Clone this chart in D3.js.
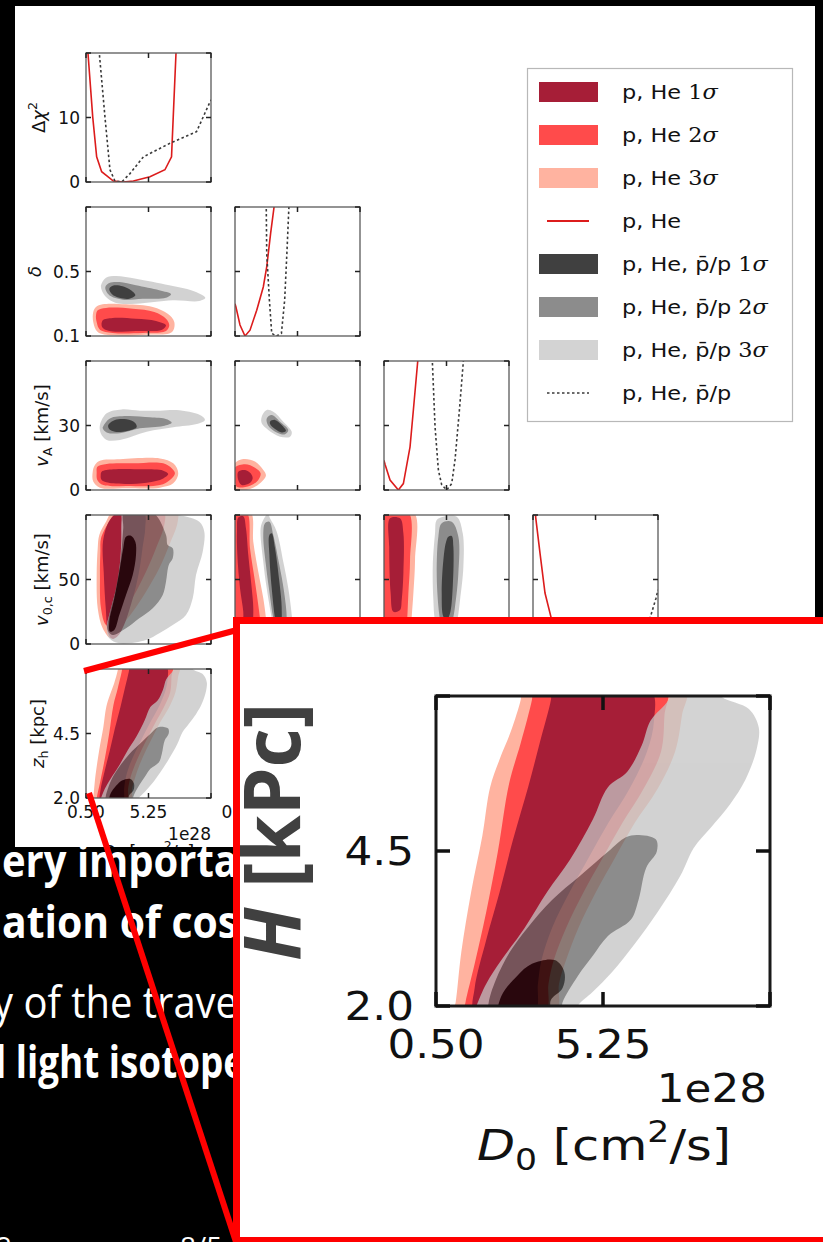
<!DOCTYPE html>
<html><head><meta charset="utf-8">
<script src="https://cdn.jsdelivr.net/npm/d3@7/dist/d3.min.js"></script>
<style>html,body{margin:0;padding:0;background:#000}svg{display:block}</style>
</head><body>
<svg id="c" width="823" height="1242"></svg>
<script>
// ---------- parameter axes ----------
const paramDomains = [[0.5, 10], [0.1, 0.9], [0, 60], [0, 100], [2, 7]];
const paramTicks   = [[0.5, 5.25, 10], [0.1, 0.5, 0.9], [0, 30, 60], [0, 50, 100], [2, 4.5, 7]];
const paramTickLabels = [["0.50", "5.25", ""], ["0.1", "0.5", ""], ["0", "30", ""], ["0", "50", ""], ["2.0", "4.5", ""]];
const chiDomain = [0, 20];
const chiTicks = [0, 10, 20];
const chiTickLabels = ["0", "10", ""];

// ---------- profile likelihoods [param, Δχ²] ----------
const chiD0_pHe      = [[0.6,22],[0.65,20],[1.01,10.1],[1.31,3.9],[1.69,1.6],[2.58,0.15],[3.34,0],[4.1,0.15],[5.36,0.8],[6.5,1.9],[7.0,3.9],[7.13,10.1],[7.34,20],[7.38,22]];
const chiD0_pHePbar  = [[1.45,22],[1.51,20],[1.94,10.1],[2.32,1.9],[2.7,0.15],[3.21,0],[3.84,1.3],[4.86,3.9],[6.88,6.0],[8.9,7.8],[9.41,10.1],[9.92,12.4],[10.05,12.8]];
const chiDelta_pHe     = [[0.1,5.0],[0.106,4.5],[0.132,1.7],[0.164,0.0],[0.196,0.9],[0.239,4.0],[0.281,7.6],[0.303,10.7],[0.328,15.9],[0.35,20],[0.355,22]];
const chiDelta_pHePbar = [[0.298,22],[0.30,20],[0.303,12.8],[0.32,5.6],[0.335,0.4],[0.366,0.0],[0.397,0.4],[0.418,5.6],[0.432,12.8],[0.445,20],[0.448,22]];
const chiVA_pHe      = [[0,4.6],[0.48,4.0],[2.9,1.55],[6.9,0.0],[9.3,1.0],[12.5,6.7],[14.1,12.4],[16.2,20],[16.5,22]];
const chiVA_pHePbar  = [[22.9,22],[23.2,20],[24.5,9.8],[26.1,3.1],[27.7,0.8],[30.1,0],[32.5,1.0],[34.1,4.7],[36.2,12.4],[38.1,20],[38.4,22]];
const chiV0c_pHe     = [[1.8,22],[2.1,19.7],[5.6,14.1],[9.6,7.9],[15,3.7],[25,1.5],[40,0.5],[60,0.0],[80,0.2],[100,0.6]];
const chiV0c_pHePbar = [[60,2.5],[75,0.3],[85,0.5],[93.6,4.0],[98.4,7.1],[100,8.4]];

// ---------- 2D confidence regions [x param, y param] ----------
// delta vs D0
const deltaD0_r3 = [[1.26,0.280],[1.77,0.297],[3.54,0.297],[5.57,0.280],[6.71,0.238],[7.21,0.187],[7.04,0.125],[5.06,0.108],[2.53,0.104],[1.39,0.125],[1.05,0.187],[1.05,0.249]];
const deltaD0_r2 = [[1.39,0.259],[2.02,0.274],[4.05,0.269],[5.69,0.249],[6.58,0.207],[6.83,0.166],[6.58,0.131],[4.81,0.119],[2.53,0.119],[1.56,0.139],[1.31,0.187],[1.26,0.228]];
const deltaD0_r1 = [[1.77,0.197],[2.53,0.212],[4.30,0.207],[5.82,0.193],[6.58,0.166],[6.28,0.139],[4.30,0.131],[2.27,0.131],[1.72,0.156]];
const deltaD0_g3 = [[1.64,0.414],[2.02,0.462],[2.78,0.472],[4.30,0.455],[6.83,0.414],[8.86,0.373],[9.57,0.337],[9.11,0.317],[7.09,0.321],[4.30,0.300],[2.78,0.305],[2.02,0.342],[1.72,0.379]];
const deltaD0_g2 = [[1.97,0.404],[2.27,0.429],[3.03,0.435],[4.30,0.414],[6.07,0.383],[6.96,0.359],[6.58,0.337],[4.81,0.331],[3.29,0.325],[2.40,0.346],[2.07,0.373]];
const deltaD0_g1 = [[2.27,0.393],[2.65,0.414],[3.29,0.408],[3.92,0.383],[4.25,0.352],[3.79,0.331],[3.03,0.337],[2.48,0.359]];
// vA vs D0
const vAD0_r3 = [[1.18,11.6],[1.56,13.6],[3.08,14.3],[6.12,14.7],[7.13,12.4],[7.51,7.8],[7.13,3.1],[6.12,1.1],[3.59,0.8],[1.56,1.1],[1.05,3.9],[1.01,8.5]];
const vAD0_r2 = [[1.36,10.8],[2.07,12.1],[4.10,12.4],[6.37,12.4],[7.01,10.1],[7.26,7.8],[6.88,4.7],[6.12,2.3],[3.59,1.9],[1.82,2.3],[1.36,4.7],[1.31,8.1]];
const vAD0_r1 = [[1.69,8.5],[2.58,9.6],[4.86,9.6],[6.37,9.0],[6.75,7.4],[6.37,5.4],[5.11,3.4],[2.58,3.1],[1.69,4.7],[1.62,7.0]];
const vAD0_g3 = [[1.56,30.2],[2.07,35.7],[3.21,37.5],[4.60,36.9],[6.12,36.9],[7.39,37.2],[9.16,34.9],[9.54,32.6],[8.91,30.7],[7.13,29.2],[5.11,27.1],[3.08,23.3],[2.07,23.3],[1.62,26.4]];
const vAD0_g2 = [[1.82,29.8],[2.32,33.3],[3.59,34.4],[5.36,33.8],[6.63,32.9],[7.01,31.3],[6.37,29.8],[4.60,28.7],[3.08,26.4],[2.07,26.8],[1.77,28.7]];
const vAD0_g1 = [[2.19,30.2],[2.70,32.6],[3.59,32.9],[4.22,31.3],[4.35,29.2],[3.71,27.6],[2.70,27.1],[2.27,28.2]];
// vA vs delta
const vAdelta_r3 = [[0.095,12.0],[0.153,14.4],[0.228,13.2],[0.281,9.3],[0.298,6.7],[0.26,3.1],[0.196,0.5],[0.095,0.0]];
const vAdelta_r2 = [[0.098,10.3],[0.164,12.0],[0.228,10.4],[0.264,7.8],[0.249,4.7],[0.196,2.0],[0.111,1.5],[0.098,5.0]];
const vAdelta_r1 = [[0.121,8.5],[0.164,9.3],[0.2,7.8],[0.213,5.4],[0.192,3.1],[0.143,2.3],[0.121,4.7]];
const vAdelta_g3 = [[0.271,34.1],[0.303,37.2],[0.345,36.4],[0.409,31.8],[0.463,27.1],[0.452,24.8],[0.388,24.8],[0.313,27.9],[0.271,31.0]];
const vAdelta_g2 = [[0.303,33.3],[0.335,34.9],[0.388,31.8],[0.441,27.9],[0.420,25.9],[0.367,26.8],[0.313,29.9]];
const vAdelta_g1 = [[0.324,31.8],[0.356,32.6],[0.399,30.2],[0.426,27.4],[0.399,26.8],[0.356,28.4],[0.328,30.2]];
// v0c vs D0
const v0cD0_r3 = [[1.51,84.5],[2.02,94.8],[2.6,103],[7.4,103],[7.47,94.8],[6.83,76.7],[6.07,58.7],[5.06,40.6],[4.05,25.0],[3.03,12.2],[2.40,4.4],[1.77,12.2],[1.39,27.7],[1.31,53.5],[1.39,74.2]];
const v0cD0_r2 = [[1.64,81.9],[2.27,94.8],[2.9,102],[6.4,102],[6.45,92.2],[5.82,74.2],[5.06,56.0],[4.30,40.6],[3.41,25.0],[2.65,12.2],[2.02,14.7],[1.64,27.7],[1.56,53.5],[1.59,71.6]];
const v0cD0_r1 = [[1.8,80],[2.3,96],[3.0,102],[4.9,102],[5.0,90],[4.8,75],[4.6,60],[4.3,45],[3.9,30],[3.4,15],[2.9,6],[2.5,4],[2.2,8],[2.0,28],[1.85,55]];
const v0cD0_g3 = [[3.29,103],[5.57,103],[7.59,100],[9.11,94.8],[9.49,87.1],[9.37,71.6],[8.86,53.5],[8.61,35.4],[8.10,22.5],[7.09,14.7],[6.07,8.3],[5.06,3.1],[3.03,0.5],[2.27,4.4],[2.07,12.2],[2.40,27.7],[2.91,48.3],[3.16,74.2],[3.2,96]];
const v0cD0_g2 = [[3.4,102],[5.57,102],[6.58,84.5],[6.71,76.7],[7.09,74.2],[7.09,66.4],[6.79,61.2],[6.58,48.3],[6.33,38.0],[5.57,27.7],[4.55,19.9],[3.54,12.2],[2.53,7.0],[2.15,10.9],[2.27,22.5],[2.78,43.2],[3.16,69.0],[3.33,89.7]];
const v0cD0_g1 = [[3.54,83.2],[3.92,84.0],[4.25,79.3],[4.30,69.0],[4.05,53.5],[3.54,38.0],[3.03,22.5],[2.65,10.9],[2.32,9.6],[2.27,17.3],[2.65,35.4],[3.03,56.0],[3.33,74.2]];
// v0c vs delta
const v0cdelta_r3 = [[0.095,102],[0.20,102],[0.217,79.3],[0.249,56],[0.281,35.4],[0.298,19.9],[0.305,5],[0.29,-2],[0.095,-2]];
const v0cdelta_r2 = [[0.097,102],[0.175,102],[0.196,74.2],[0.228,48.3],[0.26,19.9],[0.27,5],[0.25,-2],[0.097,-2]];
const v0cdelta_r1 = [[0.121,98],[0.153,99],[0.170,89.7],[0.185,69.0],[0.207,43.2],[0.217,27.7],[0.21,15],[0.18,8],[0.155,15],[0.153,25.0],[0.132,43.2],[0.115,69],[0.113,88]];
const v0cdelta_g3 = [[0.281,96.1],[0.31,101],[0.324,97.4],[0.367,87.1],[0.409,63.8],[0.441,43.2],[0.463,22.5],[0.47,8],[0.43,2],[0.36,5],[0.335,19.9],[0.303,43.2],[0.281,63.8],[0.264,89.7]];
const v0cdelta_g2 = [[0.292,93.6],[0.320,94.8],[0.345,84.5],[0.384,61.2],[0.414,40.6],[0.431,19.9],[0.42,8],[0.37,8],[0.345,19.9],[0.320,40.6],[0.298,61.2],[0.281,84.5]];
const v0cdelta_g1 = [[0.320,84.5],[0.335,85.8],[0.356,74.2],[0.384,48.3],[0.399,27.7],[0.39,14],[0.365,14],[0.356,19.9],[0.335,43.2],[0.320,69]];
// v0c vs vA
const v0cvA_r3 = [[0.3,102],[14.3,102],[14.9,65.1],[14.1,39.3],[13.3,21.2],[12.5,5],[10,-2],[0.3,-2]];
const v0cvA_r2 = [[1.2,102],[11.7,102],[12.5,65.1],[11.7,39.3],[11.2,21.2],[10.5,5],[8,-2],[1.2,-2]];
const v0cvA_r1 = [[2.9,97.4],[7.7,97.4],[9.3,85.8],[9.3,54.8],[8.5,34.1],[7.7,26.4],[4.5,25.0],[3.2,39.3],[2.5,75.4]];
const v0cvA_g3 = [[25.3,96.1],[28.5,98.7],[34.9,98.7],[37.8,85.8],[38.1,59.9],[36.5,34.1],[35.2,18.6],[33,5],[28,3],[24.5,18.6],[23.7,34.1],[23.4,59.9],[24.5,85.8]];
const v0cvA_g2 = [[27.7,93.6],[32.5,94.8],[35.7,83.2],[35.7,54.8],[34.1,29.0],[33.0,18.6],[31,8],[28,9],[26.9,18.6],[26.1,29.0],[25.3,54.8],[26.1,83.2]];
const v0cvA_g1 = [[30.9,83.2],[32.5,83.7],[33.3,75.4],[33.0,44.4],[31.7,23.8],[30.1,18.6],[28.5,21.2],[27.7,39.3],[28.5,65.1],[29.8,79.3]];
// zh vs D0
const zhD0_r3 = [[1.0,1.9],[1.06,2.06],[1.22,2.87],[1.50,3.84],[1.82,4.75],[2.04,5.53],[2.31,5.98],[2.63,6.43],[2.91,6.94],[2.95,7.1],[7.6,7.1],[7.5,6.7],[7.3,6.1],[6.8,5.5],[6.15,4.95],[5.6,4.4],[5.05,3.84],[4.55,3.26],[4.2,2.74],[4.0,2.36],[3.9,1.9]];
const zhD0_r2 = [[1.3,1.9],[1.34,2.06],[1.60,2.68],[1.93,3.52],[2.26,4.49],[2.58,5.59],[2.91,6.24],[3.23,6.94],[3.27,7.1],[7.05,7.1],[7.0,6.7],[6.9,6.1],[6.4,5.5],[5.8,4.95],[5.25,4.4],[4.7,3.84],[4.2,3.26],[3.85,2.74],[3.7,2.36],[3.6,1.9]];
const zhD0_r1 = [[1.6,1.9],[1.60,2.29],[1.93,3.07],[2.31,3.84],[2.69,4.68],[3.12,5.53],[3.45,6.24],[3.77,6.94],[3.8,7.1],[6.6,7.1],[6.7,6.6],[6.5,6.1],[6.0,5.5],[5.4,4.95],[4.85,4.4],[4.3,3.84],[3.8,3.26],[3.5,2.74],[3.4,2.36],[3.3,1.9]];
const zhD0_g3 = [[7.4,7.1],[7.0,6.85],[6.6,6.6],[6.35,6.2],[5.94,5.78],[5.39,5.53],[4.96,5.01],[4.31,4.36],[3.66,3.84],[3.02,3.26],[2.36,2.74],[1.93,2.36],[1.65,2.0],[1.6,1.9],[4.5,1.9],[4.53,2.0],[4.96,2.23],[5.51,2.55],[6.15,3.0],[6.81,3.52],[7.45,4.10],[7.83,4.55],[8.32,4.88],[8.87,5.26],[9.30,5.65],[9.62,6.14],[9.68,6.49],[9.40,6.79],[8.64,6.98],[8.5,7.1]];
const zhD0_g2 = [[6.21,4.76],[6.75,4.69],[6.78,4.49],[6.48,4.23],[6.26,3.71],[6.04,3.39],[5.39,3.13],[4.96,2.81],[4.53,2.48],[4.10,2.06],[4.05,1.9],[2.0,1.9],[2.0,2.06],[2.2,2.42],[2.6,2.87],[3.1,3.26],[3.8,3.71],[4.6,4.10],[5.4,4.49],[5.9,4.72]];
const zhD0_g1 = [[3.23,2.68],[3.88,2.74],[4.15,2.55],[4.10,2.29],[3.77,2.10],[3.7,1.9],[2.3,1.9],[2.36,2.16],[2.80,2.48]];

// ---------- legend ----------
const legendLabels = [["p, He ", "1"], ["p, He ", "2"], ["p, He ", "3"], ["p, He", ""], ["p, He, p\u0304/p ", "1"], ["p, He, p\u0304/p ", "2"], ["p, He, p\u0304/p ", "3"], ["p, He, p\u0304/p", ""]];
const legendKinds  = ["r1", "r2", "r3", "line", "g1", "g2", "g3", "dots"];

// ---------- slide text ----------
const slideLines = ["ery importa", "ation of cos", "y of the trave", "l light isotope"];
const slideBold  = [true, true, false, true];

// ---------- styling ----------
const redFill  = {r3: "#ffb3a0", r2: "#ff4b4b", r1: "#a61e37"};
const grayFill = {g3: "#c4c4c4", g2: "#666666", g1: "#000000"};   // drawn with group opacity
const graySwatch = {g1: "#404040", g2: "#8c8c8c", g3: "#d3d3d3"};
const lineRed = "#dc1c1c";
const lineDot = "#3a3a3a";
const SANS = "DejaVu Sans, sans-serif";

const svg = d3.select("#c");
const defs = svg.append("defs");
svg.append("rect").attr("width", 823).attr("height", 1242).attr("fill", "#000");

// figure area (white image on the black slide)
defs.append("clipPath").attr("id", "figclip").append("rect").attr("x", 15).attr("y", 6).attr("width", 800).attr("height", 841);
const fig = svg.append("g").attr("clip-path", "url(#figclip)");
fig.append("rect").attr("x", 15).attr("y", 6).attr("width", 800).attr("height", 841).attr("fill", "#fff");

// corner layout
const colLeft = [86, 235, 384, 533, 682];
const rowTop = [53, 207, 361, 515, 669];
const PW = 125, PH = 129;

function rich(sel, parts, size) {
  let shift = 0;
  parts.forEach(p => {
    const ts = sel.append("tspan").text(p.t);
    const target = p.sub ? size * 0.24 : p.sup ? -size * 0.42 : 0;
    if (target !== shift) { ts.attr("dy", target - shift); shift = target; }
    if (p.sub || p.sup) ts.attr("font-size", size * 0.7);
    if (p.it) ts.attr("font-style", "italic");
    if (p.fam) ts.attr("font-family", p.fam);
  });
}

const areaLine = (xs, ys) => d3.line().x(d => xs(d[0])).y(d => ys(d[1])).curve(d3.curveCatmullRomClosed.alpha(0.5));

function drawRegions(g, xs, ys, reds, grays) {
  const gen = areaLine(xs, ys);
  const rg = g.append("g");
  ["r3", "r2", "r1"].forEach((k, i) => { if (reds[i]) rg.append("path").attr("d", gen(reds[i])).attr("fill", redFill[k]); });
  const gg = g.append("g").attr("opacity", 0.75);
  ["g3", "g2", "g1"].forEach((k, i) => { if (grays[i]) gg.append("path").attr("d", gen(grays[i])).attr("fill", grayFill[k]); });
}

function drawProfile(g, xs, ys, red, dots) {
  const gen = d3.line().x(d => xs(d[0])).y(d => ys(d[1]));
  if (red) g.append("path").attr("d", gen(red)).attr("fill", "none").attr("stroke", lineRed).attr("stroke-width", 1.6);
  if (dots) g.append("path").attr("d", gen(dots)).attr("fill", "none").attr("stroke", lineDot).attr("stroke-width", 1.6).attr("stroke-dasharray", "2.5,2.5");
}

function frame(g, x0, y0, w, h, xs, ys, xt, yt, opt) {
  g.append("rect").attr("x", x0).attr("y", y0).attr("width", w).attr("height", h)
    .attr("fill", "none").attr("stroke", opt.frame).attr("stroke-width", opt.fw);
  const t = g.append("g").attr("stroke", opt.tick).attr("stroke-width", opt.tw);
  xt.forEach(v => {
    const x = xs(v);
    t.append("line").attr("x1", x).attr("x2", x).attr("y1", y0 + h).attr("y2", y0 + h - opt.tl);
    t.append("line").attr("x1", x).attr("x2", x).attr("y1", y0).attr("y2", y0 + opt.tl);
  });
  yt.forEach(v => {
    const y = ys(v);
    t.append("line").attr("x1", x0).attr("x2", x0 + opt.tl).attr("y1", y).attr("y2", y);
    t.append("line").attr("x1", x0 + w).attr("x2", x0 + w - opt.tl).attr("y1", y).attr("y2", y);
  });
}

const regionSets = [
  {row: 1, col: 0, r: [deltaD0_r3, deltaD0_r2, deltaD0_r1], g: [deltaD0_g3, deltaD0_g2, deltaD0_g1]},
  {row: 2, col: 0, r: [vAD0_r3, vAD0_r2, vAD0_r1], g: [vAD0_g3, vAD0_g2, vAD0_g1]},
  {row: 2, col: 1, r: [vAdelta_r3, vAdelta_r2, vAdelta_r1], g: [vAdelta_g3, vAdelta_g2, vAdelta_g1]},
  {row: 3, col: 0, r: [v0cD0_r3, v0cD0_r2, v0cD0_r1], g: [v0cD0_g3, v0cD0_g2, v0cD0_g1]},
  {row: 3, col: 1, r: [v0cdelta_r3, v0cdelta_r2, v0cdelta_r1], g: [v0cdelta_g3, v0cdelta_g2, v0cdelta_g1]},
  {row: 3, col: 2, r: [v0cvA_r3, v0cvA_r2, v0cvA_r1], g: [v0cvA_g3, v0cvA_g2, v0cvA_g1]},
  {row: 4, col: 0, r: [zhD0_r3, zhD0_r2, zhD0_r1], g: [zhD0_g3, zhD0_g2, zhD0_g1]}
];
const profileSets = [
  {i: 0, red: chiD0_pHe, dots: chiD0_pHePbar},
  {i: 1, red: chiDelta_pHe, dots: chiDelta_pHePbar},
  {i: 2, red: chiVA_pHe, dots: chiVA_pHePbar},
  {i: 3, red: chiV0c_pHe, dots: chiV0c_pHePbar},
  {i: 4, red: null, dots: null}
];

const xScale = j => d3.scaleLinear().domain(paramDomains[j]).range([colLeft[j], colLeft[j] + PW]);
const yScale = i => d3.scaleLinear().domain(paramDomains[i]).range([rowTop[i] + PH, rowTop[i]]);
const chiScale = i => d3.scaleLinear().domain(chiDomain).range([rowTop[i] + PH, rowTop[i]]);
const smallStyle = {frame: "#5a5a5a", fw: 1.3, tick: "#222", tw: 1.5, tl: 5};

for (let i = 0; i < 5; i++) {
  for (let j = 0; j <= i; j++) {
    const xs = xScale(j), ys = i === j ? chiScale(i) : yScale(i);
    const id = `p${i}${j}`;
    defs.append("clipPath").attr("id", id).append("rect").attr("x", colLeft[j]).attr("y", rowTop[i]).attr("width", PW).attr("height", PH);
    const pg = fig.append("g");
    const inner = pg.append("g").attr("clip-path", `url(#${id})`);
    if (i === j) {
      const ps = profileSets.find(p => p.i === i);
      drawProfile(inner, xs, ys, ps.red, ps.dots);
    } else {
      const rs = regionSets.find(s => s.row === i && s.col === j);
      if (rs) drawRegions(inner, xs, ys, rs.r, rs.g);
    }
    frame(pg, colLeft[j], rowTop[i], PW, PH, xs, ys, paramTicks[j], i === j ? chiTicks : paramTicks[i], smallStyle);
  }
}

// y tick labels (left column)
const tickFont = 17;
for (let i = 0; i < 5; i++) {
  const ys = i === 0 ? chiScale(0) : yScale(i);
  const vals = i === 0 ? chiTicks : paramTicks[i];
  const labs = i === 0 ? chiTickLabels : paramTickLabels[i];
  vals.forEach((v, k) => {
    if (!labs[k]) return;
    fig.append("text").attr("x", 80).attr("y", ys(v)).attr("dy", "0.36em").attr("text-anchor", "end")
      .attr("font-family", SANS).attr("font-size", tickFont).attr("fill", "#111").text(labs[k]);
  });
}
// x tick labels (bottom row)
for (let j = 0; j < 5; j++) {
  const xs = xScale(j);
  paramTicks[j].forEach((v, k) => {
    if (!paramTickLabels[j][k]) return;
    fig.append("text").attr("x", xs(v)).attr("y", 818).attr("text-anchor", "middle")
      .attr("font-family", SANS).attr("font-size", tickFont).attr("fill", "#111").text(paramTickLabels[j][k]);
  });
}
fig.append("text").attr("x", 211).attr("y", 840).attr("text-anchor", "end")
  .attr("font-family", SANS).attr("font-size", tickFont).attr("fill", "#111").text("1e28");
{
  const t = fig.append("text").attr("x", 148).attr("y", 858).attr("text-anchor", "middle")
    .attr("font-family", SANS).attr("font-size", 18).attr("fill", "#111");
  rich(t, [{t: "D", it: true}, {t: "0", sub: true}, {t: " [cm"}, {t: "2", sup: true}, {t: "/s]"}], 18);
}

// y axis titles
const yTitles = [
  [{t: "Δ"}, {t: "χ", it: true}, {t: "2", sup: true}],
  [{t: "δ", it: true}],
  [{t: "v", it: true}, {t: "A", sub: true}, {t: " [km/s]"}],
  [{t: "v", it: true}, {t: "0,c", sub: true}, {t: " [km/s]"}],
  [{t: "z", it: true}, {t: "h", sub: true}, {t: " [kpc]"}]
];
const yTitleX = [45, 41, 48, 48, 44];
yTitles.forEach((parts, i) => {
  const t = fig.append("text").attr("transform", `translate(${yTitleX[i]},${rowTop[i] + PH / 2}) rotate(-90)`)
    .attr("text-anchor", "middle").attr("font-family", SANS).attr("font-size", 18).attr("fill", "#111");
  rich(t, parts, 18);
});

// legend
const lg = fig.append("g");
lg.append("rect").attr("x", 527.5).attr("y", 68.5).attr("width", 265).attr("height", 353)
  .attr("fill", "#fff").attr("stroke", "#b8b8b8").attr("stroke-width", 1.2);
const legY = d3.scaleLinear().domain([0, 7]).range([92, 393]);
legendKinds.forEach((k, n) => {
  const y = legY(n);
  if (k === "line") {
    lg.append("line").attr("x1", 547).attr("x2", 589).attr("y1", y).attr("y2", y).attr("stroke", lineRed).attr("stroke-width", 2);
  } else if (k === "dots") {
    lg.append("line").attr("x1", 547).attr("x2", 589).attr("y1", y).attr("y2", y).attr("stroke", lineDot).attr("stroke-width", 1.5).attr("stroke-dasharray", "2.5,2.5");
  } else {
    const c = k[0] === "r" ? redFill[k] : graySwatch[k];
    lg.append("rect").attr("x", 539).attr("y", y - 10).attr("width", 59).attr("height", 20).attr("fill", c);
  }
  const lab = legendLabels[n];
  const t = lg.append("text").attr("transform", `translate(622,${y + 7}) scale(1.12,1)`)
    .attr("font-family", SANS).attr("font-size", 20).attr("fill", "#111");
  t.append("tspan").text(lab[0]);
  if (lab[1]) {
    t.append("tspan").attr("font-family", "DejaVu Serif, serif").text(lab[1]);
    t.append("tspan").attr("font-family", "DejaVu Serif, serif").attr("font-style", "italic").text("σ");
  }
});

// ---------- slide text ----------
const slideY = [877, 938, 1018, 1078];
const slideX = [2, 2, -7, -5];
const slideLen = [236, 236, 245, 250];
slideLines.forEach((s, n) => {
  svg.append("text").attr("x", slideX[n]).attr("y", slideY[n])
    .attr("font-family", "Open Sans, Lato, sans-serif").attr("font-weight", slideBold[n] ? 700 : 400)
    .attr("font-size", 44).attr("fill", "#fff")
    .attr("textLength", slideLen[n]).attr("lengthAdjust", "spacingAndGlyphs").text(s);
});
svg.append("text").attr("x", -4).attr("y", 1257).attr("font-family", "Open Sans, sans-serif").attr("font-size", 28).attr("fill", "#fff").text("2");
svg.append("text").attr("x", 180).attr("y", 1257).attr("font-family", "Open Sans, sans-serif").attr("font-size", 28).attr("fill", "#fff").text("8/5");

// ---------- magnified inset of the zh–D0 panel ----------
const ins = svg.append("g");
ins.append("rect").attr("x", 236.5).attr("y", 620.5).attr("width", 700).attr("height", 620)
  .attr("fill", "#fff").attr("stroke", "#ff0000").attr("stroke-width", 7);
const IX0 = 436, IX1 = 770, IY0 = 696, IY1 = 1006;
const ixs = d3.scaleLinear().domain(paramDomains[0]).range([IX0, IX1]);
const iys = d3.scaleLinear().domain(paramDomains[4]).range([IY1, IY0]);
defs.append("clipPath").attr("id", "insclip").append("rect").attr("x", IX0).attr("y", IY0).attr("width", IX1 - IX0).attr("height", IY1 - IY0);
const iin = ins.append("g").attr("clip-path", "url(#insclip)");
drawRegions(iin, ixs, iys, [zhD0_r3, zhD0_r2, zhD0_r1], [zhD0_g3, zhD0_g2, zhD0_g1]);
frame(ins, IX0, IY0, IX1 - IX0, IY1 - IY0, ixs, iys, paramTicks[0], paramTicks[4], {frame: "#1a1a1a", fw: 3, tick: "#111", tw: 3.5, tl: 14});
const insFont = 39;
paramTicks[4].forEach((v, k) => {
  if (!paramTickLabels[4][k]) return;
  ins.append("text").attr("transform", `translate(414,${iys(v)}) scale(1.12,1)`).attr("dy", "0.36em").attr("text-anchor", "end")
    .attr("font-family", SANS).attr("font-size", insFont).attr("fill", "#111").text(paramTickLabels[4][k]);
});
paramTicks[0].forEach((v, k) => {
  if (!paramTickLabels[0][k]) return;
  ins.append("text").attr("transform", `translate(${ixs(v)},1058) scale(1.12,1)`).attr("text-anchor", "middle")
    .attr("font-family", SANS).attr("font-size", insFont).attr("fill", "#111").text(paramTickLabels[0][k]);
});
ins.append("text").attr("transform", `translate(767,1102) scale(1.12,1)`).attr("text-anchor", "end")
  .attr("font-family", SANS).attr("font-size", insFont).attr("fill", "#111").text("1e28");
{
  const t = ins.append("text").attr("transform", `translate(604,1160) scale(1.15,1)`).attr("text-anchor", "middle")
    .attr("font-family", SANS).attr("font-size", 43).attr("fill", "#111");
  rich(t, [{t: "D", it: true}, {t: "0", sub: true}, {t: " [cm"}, {t: "2", sup: true}, {t: "/s]"}], 43);
}
{
  const t = ins.append("text").attr("transform", `translate(300,832) rotate(-90)`).attr("text-anchor", "middle")
    .attr("font-family", "Open Sans, sans-serif").attr("font-weight", 700).attr("font-size", 78).attr("fill", "#404040")
    .attr("textLength", 258).attr("lengthAdjust", "spacingAndGlyphs");
  t.append("tspan").attr("font-style", "italic").text("H");
  t.append("tspan").text(" [kPc]");
}

// connector lines from the small panel to the inset
svg.append("line").attr("x1", 84).attr("y1", 671).attr("x2", 237).attr("y2", 630).attr("stroke", "#ff0000").attr("stroke-width", 6);
svg.append("line").attr("x1", 89).attr("y1", 793).attr("x2", 236).attr("y2", 1242).attr("stroke", "#ff0000").attr("stroke-width", 6);
</script>
</body></html>
